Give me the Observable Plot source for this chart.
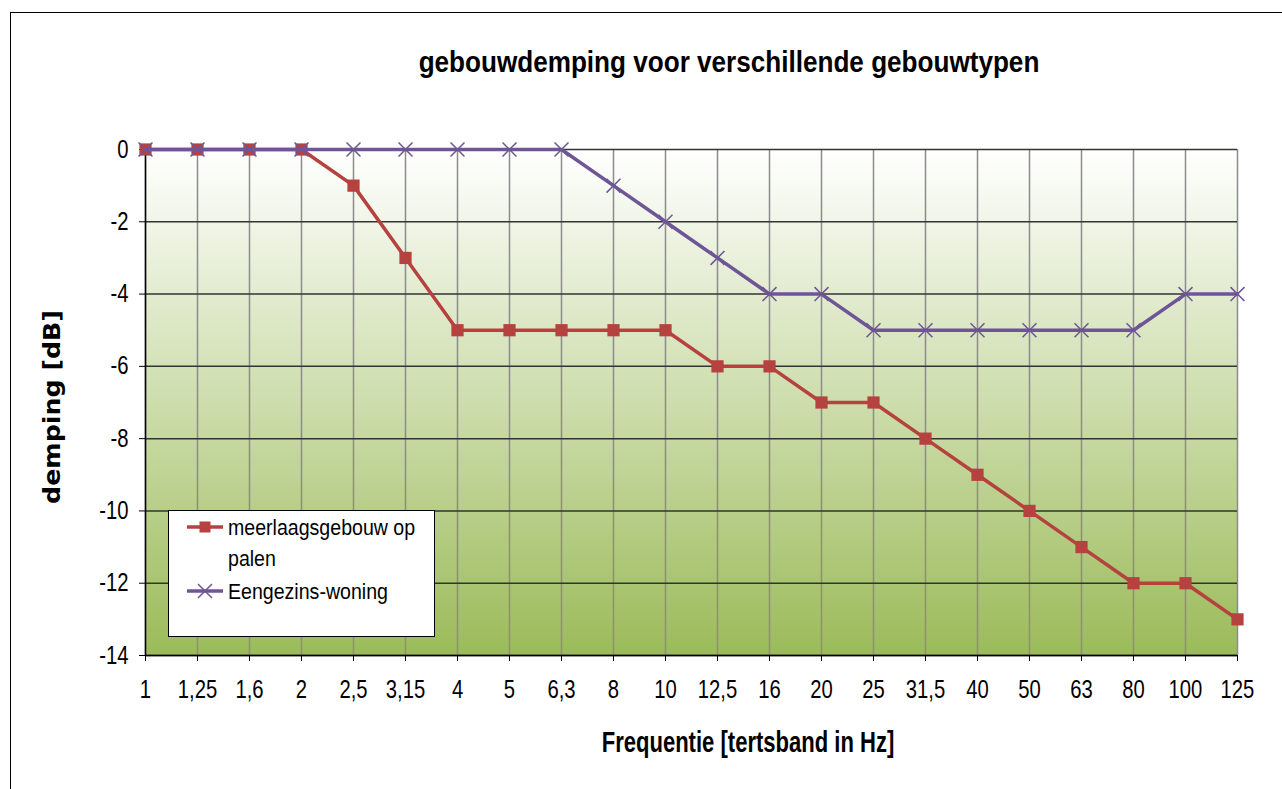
<!DOCTYPE html>
<html>
<head>
<meta charset="utf-8">
<script src="https://cdn.jsdelivr.net/npm/d3@7"></script>
<script src="https://cdn.jsdelivr.net/npm/@observablehq/plot@0.6"></script>
<style>
  body { margin: 0; background: #fff; }
  #wrap { position: relative; width: 1282px; height: 789px; overflow: hidden; }
  .narrow { font-family: "Liberation Sans", Arial, sans-serif; }
  #border { position: absolute; left: 10px; top: 12px; width: 1300px; height: 800px; border: 1.5px solid #000; box-sizing: border-box; }
  #title { position: absolute; left: 729px; top: 45px; transform: translateX(-50%) scaleX(0.87); font-weight: bold; font-size: 30px; color: #000; white-space: nowrap; }
  #xlabel { position: absolute; left: 748px; top: 726px; transform: translateX(-50%) scaleX(0.76); font-weight: bold; font-size: 29px; color: #000; white-space: nowrap; }
  #ylabel { position: absolute; left: 52px; top: 407px; transform: translate(-50%, -50%) rotate(-90deg) scaleX(1.1); font-family: "DejaVu Sans", sans-serif; font-weight: bold; font-size: 23px; white-space: nowrap; color: #000; }
  #legend { position: absolute; left: 168px; top: 510px; width: 267px; height: 127px; background: #fff; border: 1.5px solid #000; box-sizing: border-box; }
  svg.chart { position: absolute; left: 0; top: 0; }
</style>
</head>
<body>
<div id="wrap">
  <div id="border"></div>
  <div id="title" class="narrow">gebouwdemping voor verschillende gebouwtypen</div>
  <div id="ylabel">demping [dB]</div>
  <div id="xlabel" class="narrow">Frequentie [tertsband in Hz]</div>
</div>
<script>
// ---- data ----
const freqs = ["1","1,25","1,6","2","2,5","3,15","4","5","6,3","8","10","12,5","16","20","25","31,5","40","50","63","80","100","125"];
const meerlaags = [0,0,0,0,-1,-3,-5,-5,-5,-5,-5,-6,-6,-7,-7,-8,-9,-10,-11,-12,-12,-13];
const eengezins = [0,0,0,0,0,0,0,0,0,-1,-2,-3,-4,-4,-5,-5,-5,-5,-5,-5,-4,-4];
const yTicks = [0,-2,-4,-6,-8,-10,-12,-14];
const seriesNames = ["meerlaagsgebouw op palen", "Eengezins-woning"];
const seriesColors = ["#B5423E", "#6E5596"];

const redData = freqs.map((f, i) => ({f, v: meerlaags[i]}));
const purpleData = freqs.map((f, i) => ({f, v: eengezins[i]}));

const fontFam = '"Liberation Sans", Arial, sans-serif';

const chart = Plot.plot({
  width: 1282,
  height: 789,
  marginLeft: 145,
  marginRight: 45,
  marginTop: 149,
  marginBottom: 134,
  style: {background: "transparent", fontFamily: fontFam, fontSize: "25px", color: "#000", overflow: "visible"},
  x: {type: "point", domain: freqs, padding: 0},
  y: {domain: [-14, 0]},
  marks: [
    Plot.frame({fill: "url(#bgGrad)", stroke: null}),
    Plot.ruleX(freqs, {x: d => d, stroke: "#8c8c8c", strokeWidth: 1.5}),
    Plot.ruleY(yTicks, {y: d => d, stroke: "#333", strokeWidth: 1.5}),
    Plot.ruleX([freqs[0]], {x: d => d, stroke: "#000", strokeWidth: 1.5}),
    Plot.ruleY([-14], {y: d => d, stroke: "#000", strokeWidth: 1.5}),
    Plot.axisY({ticks: yTicks, tickSize: 6, tickPadding: 11, tickFormat: d => String(d), label: null, fontSize: 25, stroke: "#000"}),
    Plot.axisX({tickSize: 6, tickPadding: 19, label: null, fontSize: 25, stroke: "#000"}),
    Plot.line(redData, {x: "f", y: "v", stroke: seriesColors[0], strokeWidth: 3.5}),
    Plot.dot(redData, {x: "f", y: "v", symbol: "square", r: 6.9, fill: seriesColors[0], stroke: null}),
    Plot.line(purpleData, {x: "f", y: "v", stroke: seriesColors[1], strokeWidth: 3.5}),
    Plot.dot(purpleData, {x: "f", y: "v", symbol: "times", r: 6.4, stroke: seriesColors[1], strokeWidth: 1.5, fill: "none"})
  ]
});
chart.classList.add("chart");

// gradient definition for the plot background
const ns = "http://www.w3.org/2000/svg";
const defs = document.createElementNS(ns, "defs");
defs.innerHTML = '<linearGradient id="bgGrad" x1="0" y1="0" x2="0" y2="1"><stop offset="0" stop-color="#ffffff"/><stop offset="1" stop-color="#9BBB59"/></linearGradient>';
chart.insertBefore(defs, chart.firstChild);

document.getElementById("wrap").appendChild(chart);

// condense the axis tick labels horizontally (narrow font look), around each label's anchor
Array.from(chart.querySelectorAll("text")).forEach(t => {
  const g = document.createElementNS(ns, "g");
  t.parentNode.insertBefore(g, t);
  g.appendChild(t);
  const b = g.getBBox();
  const anchor = getComputedStyle(t).textAnchor;
  const px = anchor === "end" ? b.x + b.width : anchor === "start" ? b.x : b.x + b.width / 2;
  g.setAttribute("transform", `translate(${px},0) scale(0.81,1) translate(${-px},0)`);
});

// legend
const legend = d3.select("#wrap").append("div").attr("id", "legend");
const lsvg = legend.append("svg").attr("width", 267).attr("height", 127).style("position", "absolute").style("left", "-1.5px").style("top", "-1.5px");
const entries = [
  {name: seriesNames[0], color: seriesColors[0], sym: "square", lines: ["meerlaagsgebouw op", "palen"], y: 17},
  {name: seriesNames[1], color: seriesColors[1], sym: "times", lines: ["Eengezins-woning"], y: 81}
];
entries.forEach(e => {
  const g = lsvg.append("g");
  g.append("line").attr("x1", 19).attr("x2", 55).attr("y1", e.y).attr("y2", e.y).attr("stroke", e.color).attr("stroke-width", 3.5);
  if (e.sym === "square") {
    g.append("rect").attr("x", 37 - 5.5).attr("y", e.y - 5.5).attr("width", 11).attr("height", 11).attr("fill", e.color);
  } else {
    g.append("path").attr("d", `M${37-7},${e.y-7}L${37+7},${e.y+7}M${37-7},${e.y+7}L${37+7},${e.y-7}`).attr("stroke", e.color).attr("stroke-width", 1.5);
  }
  e.lines.forEach((t, k) => {
    g.append("text").attr("transform", `translate(60,${e.y + k * 31}) scale(0.89,1)`).attr("dy", "0.35em")
      .style("font-family", fontFam).style("font-size", "22px").attr("fill", "#000").text(t);
  });
});
</script>
</body>
</html>
